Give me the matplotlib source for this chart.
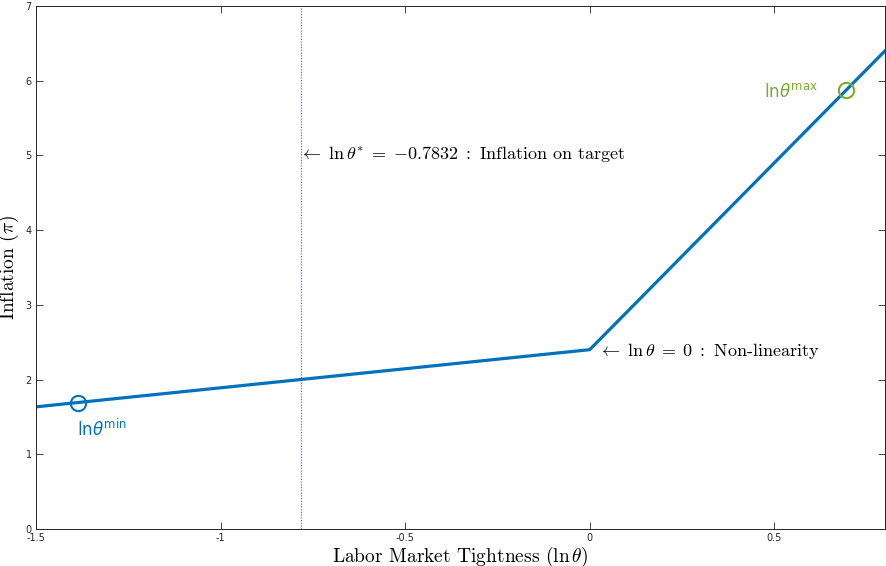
import numpy as np
import matplotlib
matplotlib.use("Agg")
import matplotlib.pyplot as plt

# piecewise-linear Phillips curve
ln_theta = [-1.5, 0.0, 0.8]
inflation = [1.635, 2.4, 6.4]

theta_star = -0.7832
kink = (0.0, 2.4)
pt_min = (np.log(0.25), 1.693)
pt_max = (np.log(2.0), 5.87)

xticks = [-1.5, -1, -0.5, 0, 0.5]
xticklabels = ["-1.5", "-1", "-0.5", "0", "0.5"]
yticks = [0, 1, 2, 3, 4, 5, 6, 7]

blue = "#0072BD"
green = "#77AC30"
axcol = "#262626"

plt.rcParams["mathtext.fontset"] = "cm"
plt.rcParams["axes.unicode_minus"] = False

fig = plt.figure(figsize=(8.86, 5.66), dpi=100)
ax = fig.add_axes([36 / 886, 37 / 566, 849 / 886, 523 / 566])

ax.axvline(theta_star, color="#3d8fd0", lw=0.9, ls=(0, (1, 1.2)))
ax.plot(ln_theta, inflation, color=blue, lw=2.3)
ax.plot(*pt_min, "o", mfc="none", mec=blue, ms=11, mew=1.5)
ax.plot(*pt_max, "o", mfc="none", mec=green, ms=11, mew=1.5)

ax.text(theta_star - 0.005, 5.02,
        r"$\leftarrow\ \ln\theta^{*} \;=\; {-}0.7832\;:$ Inflation on target",
        fontfamily="cmr10", fontsize=13, ha="left", va="center")
ax.text(kink[0] + 0.022, kink[1] - 0.02,
        r"$\leftarrow\ \ln\theta \;=\; 0\;:$ Non-linearity",
        fontfamily="cmr10", fontsize=13, ha="left", va="center")
ax.text(pt_min[0] - 0.002, pt_min[1] - 0.36, r"ln$\theta^{\mathrm{min}}$", color=blue,
        fontsize=12, math_fontfamily="dejavusans", ha="left", va="center")
ax.text(pt_max[0] - 0.075, pt_max[1] - 0.02, r"ln$\theta^{\mathrm{max}}$", color=green,
        fontsize=12, math_fontfamily="dejavusans", ha="right", va="center")

ax.set_xlim(-1.5, 0.8)
ax.set_ylim(0, 7)
ax.set_xticks(xticks)
ax.set_xticklabels(xticklabels)
ax.set_yticks(yticks)
ax.tick_params(direction="in", length=5, width=0.6, colors=axcol, labelsize=7,
               top=True, right=True, pad=3)
for s in ax.spines.values():
    s.set_color(axcol)
    s.set_linewidth(0.7)

ax.set_xlabel(r"Labor Market Tightness $(\ln\theta)$", fontfamily="cmr10",
              fontsize=14, labelpad=1)
ax.set_ylabel(r"Inflation $(\pi)$", fontfamily="cmr10", fontsize=14, labelpad=3)

fig.savefig("out.png", dpi=100)
